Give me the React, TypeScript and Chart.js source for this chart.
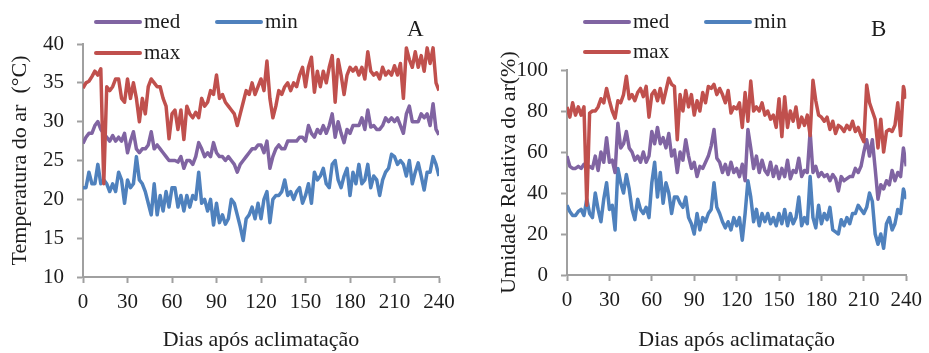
import React, { useEffect, useRef } from "react";
import { Chart, registerables } from "chart.js";
Chart.register(...registerables);

// days after acclimation (sampled every 2 days)
const days = [
  0, 2, 4, 6, 8, 10, 12, 14, 16, 18,
  20, 22, 24, 26, 28, 30, 32, 34, 36, 38,
  40, 42, 44, 46, 48, 50, 52, 54, 56, 58,
  60, 62, 64, 66, 68, 70, 72, 74, 76, 78,
  80, 82, 84, 86, 88, 90, 92, 94, 96, 98,
  100, 102, 104, 106, 108, 110, 112, 114, 116, 118,
  120, 122, 124, 126, 128, 130, 132, 134, 136, 138,
  140, 142, 144, 146, 148, 150, 152, 154, 156, 158,
  160, 162, 164, 166, 168, 170, 172, 174, 176, 178,
  180, 182, 184, 186, 188, 190, 192, 194, 196, 198,
  200, 202, 204, 206, 208, 210, 212, 214, 216, 218,
  220, 222, 224, 226, 228, 230, 232, 234, 236, 238,
  240,
];

const xTicks = [0, 30, 60, 90, 120, 150, 180, 210, 240];

// Panel A: air temperature (°C)
const tempMax = [
  34.3, 35, 35.2, 35.8, 36.5, 36, 36.8, 22, 34.5, 34,
  34.5, 35.5, 35.5, 33, 32.5, 35.5, 33, 35, 33, 30,
  33, 31, 34.5, 35.5, 35, 34.5, 34.5, 33, 32, 27.8,
  31, 31.5, 29, 31.5, 27.7, 32, 31, 30.5, 31.2, 30.5,
  33, 32, 32.5, 34, 33.5, 36, 33, 33.5, 32.5, 32,
  31.5, 31, 29.5, 31, 32.5, 34, 33.5, 35, 33.5, 34.5,
  35.5, 34, 37.8, 33, 30.5, 32, 34, 33.5, 34.5, 35,
  34, 35, 34.5, 36, 37, 34.5, 37, 38.3, 33.8, 36.5,
  34.5, 36.5, 35, 37, 38.5, 32.5, 38, 36, 33.5, 36,
  37, 36.5, 37, 36, 37, 35.5, 39, 36.5, 36, 36.3,
  35.5, 37, 36, 36.5, 36, 37.2, 36, 37.5, 33, 39.5,
  38, 37, 39, 37, 38.5, 36.5, 39.5, 37.5, 39.5, 35,
  34,
];
const tempMed = [
  27.2, 28, 28.5, 28.5, 29.5, 30, 29, 28.5, 28, 27.5,
  28.2, 27.5, 28, 27.5, 28.5, 26, 27.5, 28.7, 26.5, 26,
  26.5, 26.5, 27, 28.7, 26.5, 27, 26.5, 26, 25.5, 25,
  25, 25, 24.8, 25.5, 24, 25, 25, 24.5, 25.5, 27.3,
  26.5, 25.5, 26, 25.5, 27.3, 26, 25.5, 25.5, 25, 25.5,
  25, 24.5, 23.5, 24.5, 25, 25.5, 26, 26.5, 26.5, 27,
  27, 26, 27.5, 24, 25.5, 26.5, 27, 26.5, 26.5, 27.5,
  27.5, 27.5, 27.5, 28, 28, 27.5, 29.5, 28.5, 28, 29,
  28.5, 29.5, 28.5, 29.5, 31, 28, 30, 28.5, 27.3, 29,
  28.5, 29.5, 29.5, 29.5, 30.5, 29, 31.5, 29.3, 29.5, 29,
  29, 29.5, 30.5, 30, 30.5, 30, 30.5, 29.5, 28.5, 31,
  32, 30, 30, 30, 31, 30.5, 31, 29.5, 32.3, 29,
  28.3,
];
const tempMin = [
  21.5, 21.5, 23.5, 22, 22, 24.5, 22, 22.5, 22, 21,
  22, 21, 23.5, 22.5, 19.5, 22.5, 21.5, 22, 25.5, 22.5,
  22, 21, 19.5, 18, 22, 18, 20.5, 18.5, 21, 19,
  21.5, 21.5, 19, 20.5, 18.5, 20.5, 19, 20.5, 20, 23.5,
  19.5, 20, 18.5, 20, 16.7, 19.5, 17, 18, 16.8, 17.5,
  20, 19.5, 18, 16.5, 14.7, 17.5, 18, 19, 17.5, 19.5,
  17.5, 20, 21, 17, 20, 20.5, 20.5, 21, 22.5, 20.5,
  21, 20, 21, 21.5, 19.5, 20.5, 22, 19.5, 23.5, 22.5,
  23, 24, 22, 21.5, 24.5, 25, 22.5, 21.5, 23, 24,
  20.5, 23.5, 22, 24.5, 22, 22.5, 24.5, 21.5, 23, 22.5,
  20.5, 22.5, 23.5, 24, 25.8, 25.5, 24.5, 25, 24.5, 23,
  25, 22, 23.5, 24.7, 23, 21.2, 23.5, 23.5, 25.5, 24.5,
  23,
];

// Panel B: relative air humidity (%)
const humMax = [
  82, 77, 84, 78, 82, 78, 82, 34, 79, 80,
  80, 82, 86, 84, 91, 85, 80, 76.5, 85, 84,
  88, 97, 86, 88, 85, 89, 91, 87, 92, 77,
  88, 90, 85, 91, 84, 90, 96, 93, 92, 66,
  88, 80, 90, 82, 88, 78, 85, 80, 89, 84,
  92, 91, 93, 88, 91, 88, 84, 90, 79, 82,
  81, 84, 72, 89, 75, 94.6, 80, 82, 80, 84,
  78, 80, 76, 78, 72, 86, 67.5, 87, 72, 80,
  75, 82, 72, 77, 73, 78, 68, 95, 85, 78,
  77, 75, 77, 71, 75, 69, 73, 72, 70, 73,
  71, 75, 70, 72, 68, 65, 92.7, 84, 80, 76,
  62, 76, 60, 70, 71, 70, 73, 84, 68, 92,
  86,
];
const humMed = [
  58, 53, 52, 52, 53, 52, 54, 52, 53, 52,
  58, 51, 60, 55, 67, 55, 56, 50, 74, 62,
  64, 70, 62, 60, 56, 58, 55, 60, 55, 58,
  70, 64, 72, 64, 67, 62, 69, 58, 61, 50,
  60, 56, 66, 58, 52, 55, 48, 53, 52, 55,
  58, 63, 71, 57, 55, 50, 54, 49, 55, 50,
  52, 48, 54, 46, 71, 62, 52, 58, 50, 56,
  51, 49, 55, 48, 53, 47, 52, 48, 56, 47,
  51, 50, 57, 48, 51, 50, 70, 50, 53, 48,
  50, 48, 49, 46, 49, 47, 41, 48, 46, 47,
  48, 48, 52, 50, 53, 60, 66, 58, 66, 52,
  37, 44, 42, 46, 44, 51, 46, 50, 48, 62,
  53,
];
const humMin = [
  34, 31, 29, 29, 31, 32, 29, 37, 30, 28,
  40, 32, 26, 37, 45, 32, 34, 22, 52, 45,
  40, 49, 42, 32, 27, 37, 32, 30, 33, 28,
  45, 55, 38, 50, 35, 45, 40, 30, 38, 38,
  35, 33, 38, 28, 25, 20, 30, 22, 28, 26,
  30, 32, 45, 33, 30, 26, 23, 26, 22, 28,
  24, 28, 17, 30, 46, 38, 26, 32, 24, 30,
  26, 30, 25, 28, 24, 30, 25, 32, 24, 30,
  25, 28, 38, 24, 28, 25, 48, 28, 23, 34,
  25, 30, 27, 33, 22, 21, 20, 27, 24, 28,
  25, 30, 30, 34, 32, 30, 33, 40, 36, 20,
  15, 20, 13, 25, 28, 22, 25, 32, 30, 42,
  37,
];

const seriesNames = ["max", "med", "min"];
const COLORS = { max: "#C0504D", med: "#8064A2", min: "#4F81BD" };
const FONT = "Liberation Serif";
const AXIS = "#a0a0a0";
const TEXT = "#1c1c1c";

const pts = (vals: number[]) => days.map((d, i) => ({ x: d, y: vals[i] }));

type PanelCfg = {
  values: number[][]; // max, med, min
  yMin: number;
  yMax: number;
  yStep: number;
  yTitle: string;
  tag: string;
  axisW: number;
  axisH: number;
  padTop: number;
  padRight: number;
  yTitlePad: number;
  xTitlePad: number;
  legend: { name: string; x: number; y: number }[];
  tagX: number;
  tagY: number;
};

const overlayPlugin = (cfg: PanelCfg) => ({
  id: "overlay",
  afterDraw(chart: any) {
    const ctx = chart.ctx;
    ctx.save();
    cfg.legend.forEach((item) => {
      ctx.strokeStyle = (COLORS as any)[item.name];
      ctx.lineWidth = 4;
      ctx.lineCap = "round";
      ctx.beginPath();
      ctx.moveTo(item.x, item.y);
      ctx.lineTo(item.x + 44, item.y);
      ctx.stroke();
      ctx.fillStyle = TEXT;
      ctx.font = `21px "${FONT}"`;
      ctx.textBaseline = "middle";
      ctx.textAlign = "left";
      ctx.fillText(item.name, item.x + 48, item.y);
    });
    ctx.font = `23px "${FONT}"`;
    ctx.fillStyle = TEXT;
    ctx.textBaseline = "middle";
    ctx.textAlign = "left";
    ctx.fillText(cfg.tag, cfg.tagX, cfg.tagY);
    ctx.restore();
  },
});

function Panel({ left, width, cfg }: { left: number; width: number; cfg: PanelCfg }) {
  const ref = useRef<HTMLCanvasElement>(null);
  useEffect(() => {
    const datasets = seriesNames.map((name, i) => ({
      label: name,
      data: pts(cfg.values[i]),
      borderColor: (COLORS as any)[name],
      backgroundColor: (COLORS as any)[name],
      borderWidth: 3.5,
      borderJoinStyle: "round",
      pointRadius: 0,
      tension: 0,
      fill: false,
    }));
    const chart = new Chart(ref.current as HTMLCanvasElement, {
      type: "line",
      data: { datasets },
      options: {
        animation: false,
        responsive: false,
        devicePixelRatio: 1,
        layout: { padding: { left: 0, top: cfg.padTop, right: cfg.padRight, bottom: 0 } },
        plugins: { legend: { display: false }, tooltip: { enabled: false } },
        scales: {
          x: {
            type: "linear",
            min: 0,
            max: 240,
            afterFit: (s: any) => {
              s.height = cfg.axisH;
            },
            afterBuildTicks: (s: any) => {
              s.ticks = xTicks.map((v) => ({ value: v }));
            },
            ticks: {
              autoSkip: false,
              maxRotation: 0,
              padding: 7,
              color: TEXT,
              font: { family: FONT, size: 21 },
            },
            grid: { drawOnChartArea: false, drawTicks: true, tickLength: 6, color: AXIS, tickWidth: 2 },
            border: { color: AXIS, width: 2 },
            title: {
              display: true,
              text: "Dias após aclimatação",
              color: TEXT,
              font: { family: FONT, size: 22 },
              padding: { top: cfg.xTitlePad, bottom: 0 },
            },
          },
          y: {
            type: "linear",
            min: cfg.yMin,
            max: cfg.yMax,
            afterFit: (s: any) => {
              s.width = cfg.axisW;
            },
            ticks: {
              stepSize: cfg.yStep,
              padding: 13,
              color: TEXT,
              font: { family: FONT, size: 21 },
            },
            grid: { drawOnChartArea: false, drawTicks: true, tickLength: 6, color: AXIS, tickWidth: 2 },
            border: { color: AXIS, width: 2 },
            title: {
              display: true,
              text: cfg.yTitle,
              color: TEXT,
              font: { family: FONT, size: 22 },
              padding: { top: cfg.yTitlePad, bottom: 0 },
            },
          },
        },
      },
      plugins: [overlayPlugin(cfg)],
    } as any);
    return () => chart.destroy();
  }, []);
  return (
    <div style={{ position: "absolute", left, top: 0, width, height: 353 }}>
      <canvas ref={ref} width={width} height={353} style={{ display: "block" }} />
    </div>
  );
}

const panelA: PanelCfg = {
  values: [tempMax, tempMed, tempMin],
  yMin: 10,
  yMax: 40,
  yStep: 5,
  yTitle: "Temperatura do ar  (°C)",
  tag: "A",
  axisW: 83,
  axisH: 76,
  padTop: 44,
  padRight: 26,
  yTitlePad: 7,
  xTitlePad: 2,
  legend: [
    { name: "med", x: 96, y: 22 },
    { name: "min", x: 217, y: 22 },
    { name: "max", x: 96, y: 53 },
  ],
  tagX: 407,
  tagY: 30,
};

const panelB: PanelCfg = {
  values: [humMax, humMed, humMin],
  yMin: 0,
  yMax: 100,
  yStep: 20,
  yTitle: "Umidade Relativa do ar(%)",
  tag: "B",
  axisW: 102,
  axisH: 78,
  padTop: 70,
  padRight: 17,
  yTitlePad: 31,
  xTitlePad: 0,
  legend: [
    { name: "med", x: 120, y: 22 },
    { name: "min", x: 241, y: 22 },
    { name: "max", x: 120, y: 52 },
  ],
  tagX: 406,
  tagY: 30,
};

export default function App() {
  return (
    <div style={{ position: "fixed", left: 0, top: 0, width: 929, height: 353, background: "#fff" }}>
      <Panel left={0} width={465} cfg={panelA} />
      <Panel left={465} width={464} cfg={panelB} />
    </div>
  );
}
